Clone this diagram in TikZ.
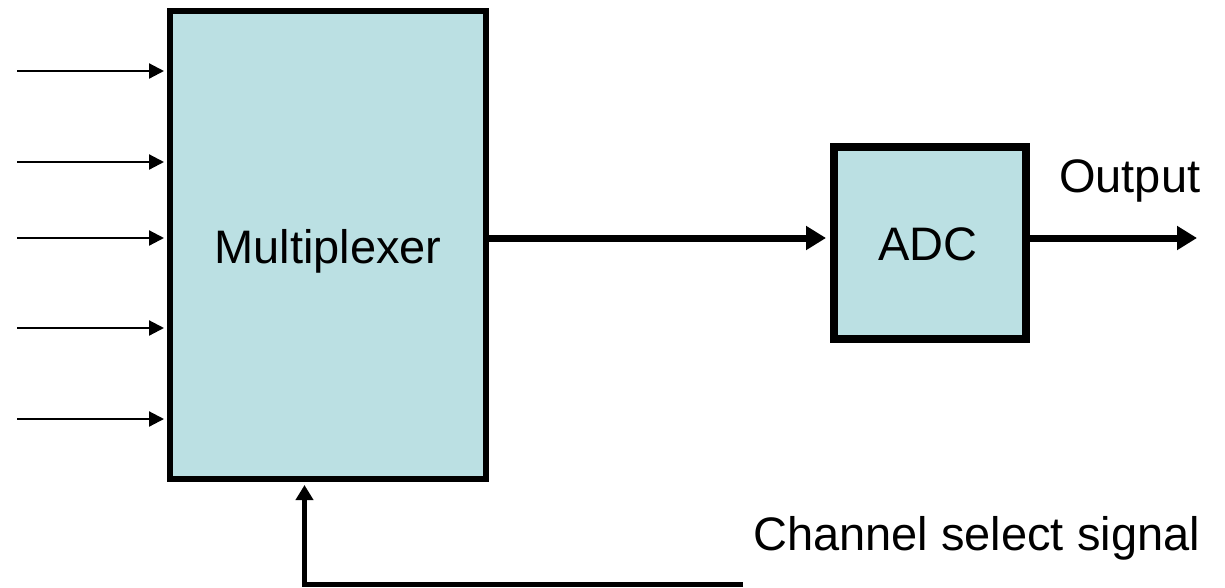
\documentclass[tikz,border=0pt]{standalone}
\usepackage{fontspec}
\setmainfont{Liberation Sans}
\usetikzlibrary{arrows.meta}
\definecolor{boxfill}{HTML}{BBE0E3}
\tikzset{
  block/.style={draw=black, fill=boxfill, rectangle, inner sep=0pt},
  lbl/.style={font=\fontsize{47}{56}\selectfont, inner sep=0pt},
  inarrow/.style={line width=2.2pt, -{Triangle[length=15pt,width=15pt]}},
  bigarrow/.style={line width=7pt, -{Triangle[length=20pt,width=23pt]}},
  selarrow/.style={line width=5pt, -{Triangle[length=15pt,width=17pt]}}
}
\begin{document}
\begin{tikzpicture}[x=1pt,y=-1pt]
\useasboundingbox (0,0) rectangle (1225,587);
% blocks
\node[block, line width=6pt, minimum width=316pt, minimum height=468pt] (mux) at (328,245) {};
\node[block, line width=8pt, minimum width=192pt, minimum height=192pt] (adc) at (930,243) {};
% labels
\node[lbl, anchor=base] (muxlabel) at (328,263) {Multiplexer};
\node[lbl, anchor=base] (adclabel) at (928,260) {ADC};
\node[lbl, anchor=base west] (outlabel) at (1059,192) {Output};
\node[lbl, anchor=base west] (sellabel) at (753,550) {Channel select signal};
% inputs
\foreach \i/\y in {1/71,2/162,3/238,4/328,5/419}{
  \coordinate (in\i) at (17,\y);
  \draw[inarrow, shorten >=3pt] (in\i) -- (in\i -| mux.west);
}
% mux -> adc
\coordinate (m1) at (486,238);
\draw[bigarrow, shorten >=4pt] (m1 -| mux.east) -- (m1 -| adc.west);
% output
\coordinate (out) at (1197,238);
\draw[bigarrow] (out -| adc.east) -- (out);
% channel select
\coordinate (cs) at (743,584);
\coordinate (csc) at (304.5,584);
\draw[selarrow, shorten >=3pt] (cs) -- (csc) -- (csc |- mux.south);
\end{tikzpicture}
\end{document}
